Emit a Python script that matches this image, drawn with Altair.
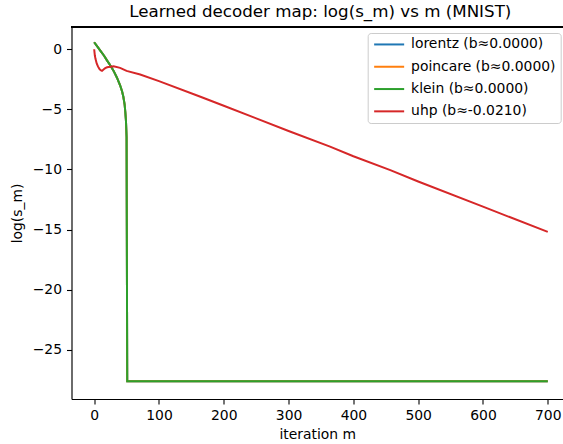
import altair as alt
import pandas as pd

# Iteration index m and log(s_m) for each decoder geometry.
# lorentz, poincare and klein follow the same trajectory (b≈0) and collapse
# to the numerical floor log(1e-12) after about 51 iterations.
m_flat = [0, 5, 10, 15, 20, 25, 30, 35, 40, 43, 45, 47, 48, 49, 50, 51, 700]
log_s_flat = [0.58, 0.22, -0.15, -0.52, -0.95, -1.35, -1.8, -2.35, -3.0,
              -3.5, -3.95, -4.6, -5.2, -5.9, -7.3, -27.63, -27.63]

m_uhp = [0, 1, 2, 4, 6, 8, 10, 12, 14, 17, 20, 25, 30, 40, 50, 71, 100,
         164, 200, 300, 364, 400, 457, 500, 600, 700]
log_s_uhp = [0.0, -0.5, -0.8, -1.2, -1.45, -1.63, -1.75, -1.8, -1.7, -1.58,
             -1.5, -1.45, -1.42, -1.55, -1.8, -2.1, -2.65, -3.95, -4.7,
             -6.8, -8.1, -8.9, -10.06, -11.0, -13.1, -15.2]

series_labels = ["lorentz (b≈0.0000)", "poincare (b≈0.0000)",
                 "klein (b≈0.0000)", "uhp (b≈-0.0210)"]
series_colors = ["#1f77b4", "#ff7f0e", "#2ca02c", "#d62728"]
x_ticks = [0, 100, 200, 300, 400, 500, 600, 700]
y_ticks = [0, -5, -10, -15, -20, -25]

frames = []
for label in series_labels[:3]:
    frames.append(pd.DataFrame({"m": m_flat, "log_s": log_s_flat, "series": label}))
frames.append(pd.DataFrame({"m": m_uhp, "log_s": log_s_uhp, "series": series_labels[3]}))
df = pd.concat(frames, ignore_index=True)

FONT = "DejaVu Sans"
W, H = 491.5, 372

x_enc = alt.X(
    "m:Q",
    scale=alt.Scale(domain=[-35, 723.5], nice=False, zero=False),
    axis=alt.Axis(values=x_ticks, title="iteration m", grid=False,
                  labelFont=FONT, labelFontSize=13.9, labelColor="black",
                  titleFont=FONT, titleFontSize=13.9, titleFontWeight="normal",
                  titleColor="black", titlePadding=6,
                  domainColor="black", domainWidth=1.1,
                  tickColor="black", tickSize=5, tickWidth=1.1,
                  labelPadding=4, labelFlush=False),
)
y_enc = alt.Y(
    "log_s:Q",
    scale=alt.Scale(domain=[-29.1, 1.85], nice=False, zero=False),
    axis=alt.Axis(values=y_ticks, title="log(s_m)", grid=False,
                  labelFont=FONT, labelFontSize=13.9, labelColor="black",
                  titleFont=FONT, titleFontSize=13.9, titleFontWeight="normal",
                  titleColor="black", titlePadding=8,
                  domainColor="black", domainWidth=1.1,
                  tickColor="black", tickSize=5, tickWidth=1.1,
                  labelPadding=5, labelFlush=False),
)
# Legend handles: a 30px horizontal stroke drawn from a small custom path,
# so the rows stay as tall as the label text.
color_enc = alt.Color(
    "series:N",
    scale=alt.Scale(domain=series_labels, range=series_colors),
    legend=alt.Legend(
        title=None, orient="none", legendX=296.2, legendY=6,
        symbolType="M-3,0H3", symbolSize=100, symbolStrokeWidth=2,
        symbolOffset=10,
        labelFont=FONT, labelFontSize=13.9, labelColor="black",
        labelOffset=15, labelLimit=300, rowPadding=7.3, padding=4.5,
        strokeColor="#cccccc", fillColor="white", cornerRadius=3,
    ),
)

# One layer per series so the later geometries are painted on top.
layers = [
    alt.Chart(df).transform_filter(alt.datum.series == label)
    .mark_line(strokeWidth=2, clip=True)
    .encode(x=x_enc, y=y_enc, color=color_enc)
    for label in series_labels
]

# Top spine of the frame
top_spine = alt.Chart(df).mark_rule(color="black", strokeWidth=1.1).encode(
    x=alt.value(0), x2=alt.value(W), y=alt.value(0)
)

chart = alt.layer(*layers, top_spine).properties(
    width=W, height=H,
    padding={"left": 71.5, "top": 27, "right": 0, "bottom": 45},
    autosize=alt.AutoSizeParams(type="none"),
    title=alt.TitleParams(
        "Learned decoder map: log(s_m) vs m (MNIST)",
        font=FONT, fontSize=16.7, fontWeight="normal", color="black",
        anchor="middle", offset=6, dx=3,
    ),
).configure_view(stroke=None).configure(background="white")

chart.save("out.html", embed_options={"renderer": "svg", "actions": False})
